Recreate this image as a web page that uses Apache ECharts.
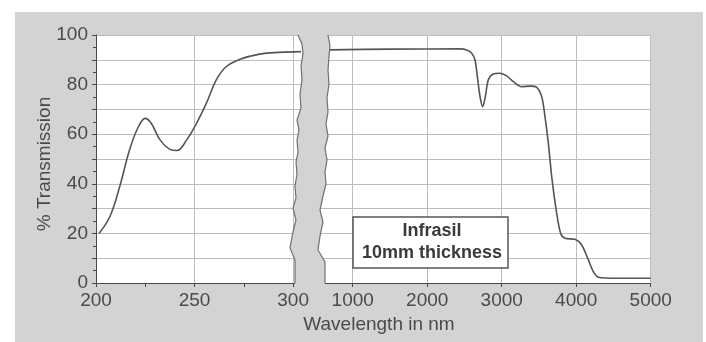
<!DOCTYPE html>
<html>
<head>
<meta charset="utf-8">
<script src="https://cdn.jsdelivr.net/npm/echarts@6/dist/echarts.min.js"></script>
<style>
  html, body { margin: 0; padding: 0; background: #fff; }
  #chart { width: 706px; height: 342px; }
</style>
</head>
<body>
<div id="chart"></div>
<script>
// UV side (nm, % transmission)
const uvWave = [201.5, 207, 212, 217, 221.5, 225, 228, 232.5, 237.5, 241, 246, 251, 256, 261, 266, 273, 283, 293, 304]
const uvTrans = [20.0, 26.7, 38.8, 53.6, 63, 66.4, 64.4, 57.7, 53.9, 53.4, 57.7, 64.4, 72.5, 81.9, 87.2, 90.2, 92.3, 93, 93.3]

// IR side
const irWave = [680, 1500, 2440, 2530, 2597, 2641, 2673, 2709, 2745, 2780, 2820, 2887, 2977, 3067, 3156, 3268, 3380, 3470, 3537, 3581, 3626, 3671, 3738, 3792, 3850, 3984, 4074, 4163, 4230, 4297, 4544, 5000]
const irTrans = [94.0, 94.3, 94.4, 94.0, 92.6, 89.9, 83.2, 75.1, 71.1, 75.1, 81.9, 84.3, 84.6, 83.5, 81.2, 79.2, 79.4, 78.9, 75.1, 67.1, 56.3, 42.9, 28.1, 20.0, 18.0, 17.6, 15.3, 9.3, 4.6, 2.3, 1.9, 1.9]

const irTicks = [1000, 2000, 3000, 4000, 5000]

const ink = '#4a4a4a'
const paper = '#d3d3d3'
const gridColor = '#bdbdbd'
const font = 'Liberation Sans'

const chart = echarts.init(document.getElementById('chart'))

// wavy break edges (decoration only)
const leftEdge = [[298,35],[302,44],[303,54],[301,66],[302,80],[300,94],[301,108],[297,120],[299,130],[297,140],[298,152],[296,162],[297,174],[295,186],[296,198],[293,208],[296,220],[293,232],[290,248],[295,260],[295,290]]
const rightEdge = [[328,35],[330,46],[329,56],[328,70],[329,84],[327,98],[328,112],[326,124],[328,136],[325,148],[327,160],[325,172],[326,184],[323,196],[320,210],[323,222],[320,236],[318,250],[325,262],[325,290]]

const option = {
  backgroundColor: '#fff',
  animation: false,
  grid: [
    { left: 96, top: 35, width: 207, height: 248, show: true, backgroundColor: '#fff', borderWidth: 0 },
    { left: 315.5, top: 35, width: 335.2, height: 248, show: true, backgroundColor: '#fff', borderWidth: 0 }
  ],
  xAxis: [
    {
      type: 'value', gridIndex: 0, min: 200, max: 305, interval: 50,
      axisLine: { lineStyle: { color: ink, width: 1 } },
      axisTick: { length: 4, lineStyle: { color: ink } },
      minorTick: { show: true, splitNumber: 2, length: 4, lineStyle: { color: ink } },
      axisLabel: {
        color: ink, fontFamily: font, fontSize: 19, margin: 8,
        formatter: v => (v % 50 === 0 ? String(v) : '')
      },
      splitLine: { show: true, lineStyle: { color: gridColor, width: 1 } }
    },
    {
      type: 'value', gridIndex: 1, min: 500, max: 5000, interval: 500,
      axisLine: { lineStyle: { color: ink, width: 1 } },
      axisTick: { customValues: irTicks, length: 4, lineStyle: { color: ink } },
      axisLabel: { customValues: irTicks, color: ink, fontFamily: font, fontSize: 19, margin: 8, formatter: v => String(v) },
      splitLine: { show: true, lineStyle: { color: gridColor, width: 1 } }
    }
  ],
  yAxis: [
    {
      type: 'value', gridIndex: 0, min: 0, max: 100, interval: 10,
      axisLine: { show: true, lineStyle: { color: ink, width: 1 } },
      axisTick: { show: true, length: 4, lineStyle: { color: ink } },
      minorTick: { show: true, splitNumber: 2, length: 3, lineStyle: { color: ink } },
      axisLabel: {
        color: ink, fontFamily: font, fontSize: 19, margin: 8,
        formatter: v => (v % 20 === 0 ? v : '')
      },
      splitLine: { show: true, lineStyle: { color: gridColor, width: 1 } }
    },
    {
      type: 'value', gridIndex: 1, min: 0, max: 100, interval: 10,
      axisLine: { show: false }, axisTick: { show: false }, axisLabel: { show: false },
      splitLine: { show: true, lineStyle: { color: gridColor, width: 1 } }
    }
  ],
  series: [
    {
      type: 'line', xAxisIndex: 0, yAxisIndex: 0, smooth: 0.4, showSymbol: false,
      lineStyle: { color: '#555', width: 1.6 },
      data: uvWave.map((w, i) => [w, uvTrans[i]])
    },
    {
      type: 'line', xAxisIndex: 1, yAxisIndex: 1, smooth: 0.3, showSymbol: false,
      lineStyle: { color: '#555', width: 1.6 },
      data: irWave.map((w, i) => [w, irTrans[i]])
    }
  ],
  graphic: [
    { type: 'rect', z: -10, silent: true, shape: { x: 15, y: 12, width: 688, height: 330 }, style: { fill: paper } },
    {
      type: 'polygon', z: 100, silent: true,
      shape: { points: leftEdge.concat(rightEdge.slice().reverse()).concat([[328, 30], [298, 30]]) },
      style: { fill: paper, stroke: null }
    },
    { type: 'polyline', z: 101, silent: true, shape: { points: leftEdge.slice(0, -1).concat([[295, 283]]) }, style: { stroke: '#707070', lineWidth: 1.2, fill: null } },
    { type: 'polyline', z: 101, silent: true, shape: { points: rightEdge.slice(0, -1).concat([[325, 283]]) }, style: { stroke: '#707070', lineWidth: 1.2, fill: null } },
    {
      type: 'rect', z: 102, silent: true,
      shape: { x: 353, y: 217, width: 155, height: 51 },
      style: { fill: '#fff', stroke: '#555', lineWidth: 1.5 }
    },
    {
      type: 'text', z: 103, silent: true, x: 432, y: 242,
      style: {
        text: 'Infrasil\n10mm thickness', align: 'center', verticalAlign: 'middle',
        font: 'bold 18px "Liberation Sans"', fill: '#3a3a3a', lineHeight: 22
      }
    },
    {
      type: 'text', silent: true, x: 379, y: 325,
      style: { text: 'Wavelength in nm', align: 'center', verticalAlign: 'middle', font: '19px "Liberation Sans"', fill: ink }
    },
    {
      type: 'text', silent: true, x: 45, y: 164, rotation: Math.PI / 2,
      style: { text: '% Transmission', align: 'center', verticalAlign: 'middle', font: '19px "Liberation Sans"', fill: ink }
    }
  ]
}

chart.setOption(option)
</script>
</body>
</html>
